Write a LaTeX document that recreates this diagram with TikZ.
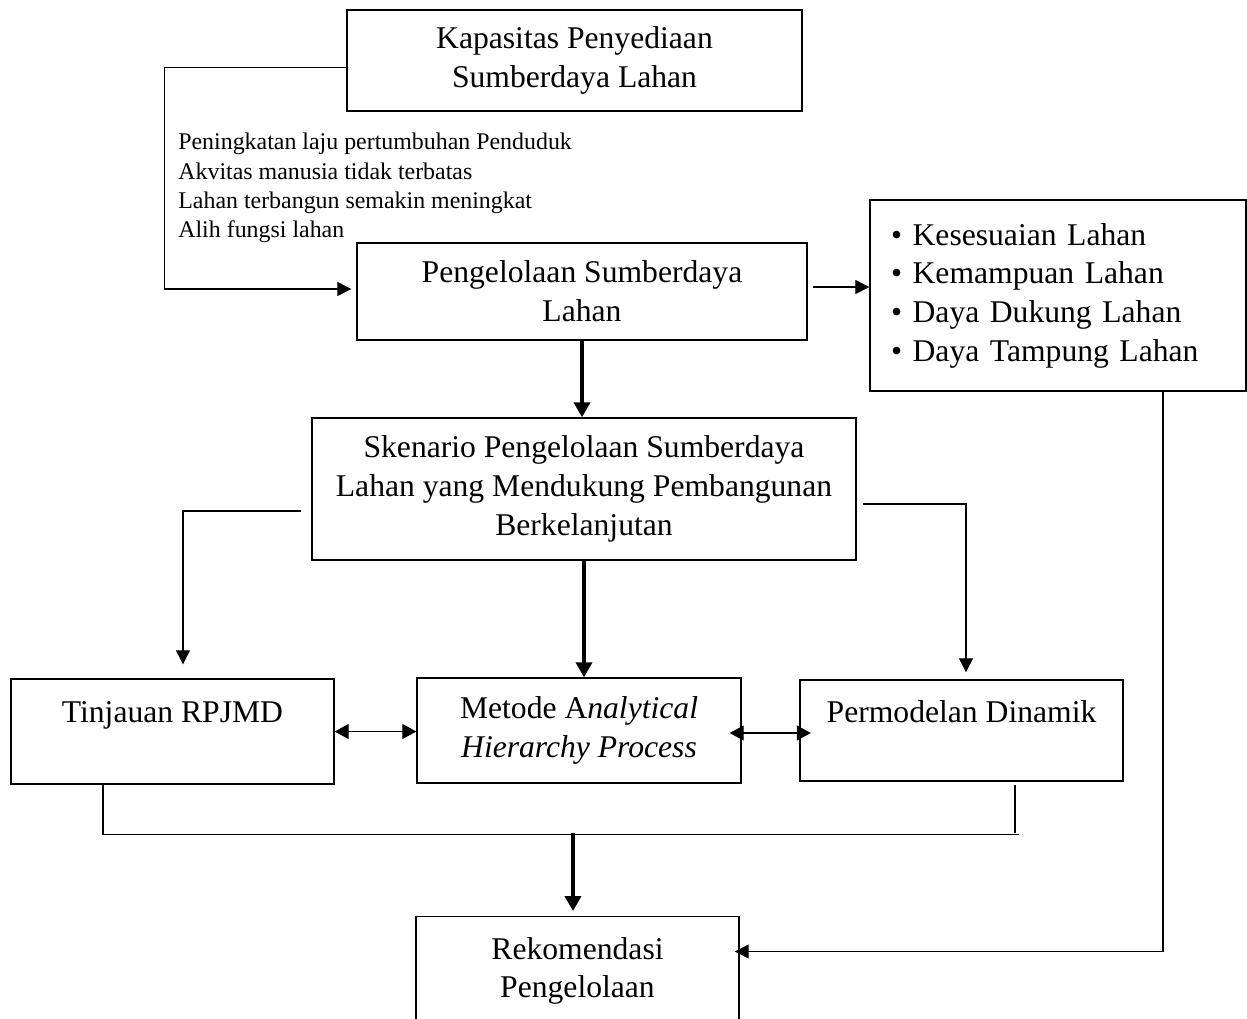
\documentclass[tikz,border=0pt]{standalone}
\usepackage{fontspec}
\setmainfont{Liberation Serif}
\usetikzlibrary{arrows.meta}
\usetikzlibrary{positioning}

\begin{document}
\begin{tikzpicture}[x=0.02cm,y=-0.02cm,
  box/.style={draw,line width=0.8pt,align=center,inner sep=0pt,font=\fontsize{18}{22}\selectfont},
  conn/.style={line width=0.6pt},
  arr/.style={conn,-{Triangle[length=0.28cm,width=0.28cm]}},
  darr/.style={conn,{Triangle[length=0.28cm,width=0.3cm]}-{Triangle[length=0.28cm,width=0.3cm]}},
  bold/.style={line width=2.2pt,-{Triangle[length=0.3cm,width=0.32cm]}}]
  \useasboundingbox (0,0) rectangle (1247,1018);

  \node[box,minimum width=9.1cm,minimum height=2.02cm] (kap) at (574.5,60.5) {Kapasitas Penyediaan\\Sumberdaya Lahan};
  \node[align=left,anchor=west,inner sep=0pt,font=\fontsize{13.6}{16.7}\selectfont] (faktor) at (178,188)
    {Peningkatan laju pertumbuhan Penduduk\\Akvitas manusia tidak terbatas\\Lahan terbangun semakin meningkat\\Alih fungsi lahan};
  \node[box,minimum width=9cm,minimum height=1.94cm] (peng) at (582,291.5) {Pengelolaan Sumberdaya\\Lahan};
  \node[box,align=left,text width=6.68cm,inner xsep=0.42cm,minimum height=3.82cm] (syarat) at (1058,295.5)
    {\textbullet\ Kesesuaian Lahan\\\textbullet\ Kemampuan Lahan\\\textbullet\ Daya Dukung Lahan\\\textbullet\ Daya Tampung Lahan};
  \node[box,minimum width=10.88cm,minimum height=2.84cm] (sken) at (584,489)
    {Skenario Pengelolaan Sumberdaya\\Lahan yang Mendukung Pembangunan\\Berkelanjutan};

  \node[box,minimum width=6.46cm,minimum height=2.1cm] (rpjmd) at (172.5,731.5) {Tinjauan RPJMD\\\mbox{}};
  \node[box,minimum width=6.48cm,minimum height=2.1cm] (ahp) at (579,730.5) {Metode A\textit{nalytical}\\\textit{Hierarchy Process}};
  \node[box,minimum width=6.46cm,minimum height=2.02cm] (dinamik) at (961.5,730.5) {Permodelan Dinamik\\\mbox{}};
  \node[box,anchor=north,minimum width=6.46cm,minimum height=2.8cm] (rek) at (577.5,916) {Rekomendasi\\Pengelolaan\\\mbox{}};

  \draw[arr] ([yshift=-0.14cm]kap.west) -- ++(-182,0) |- ([xshift=-0.1cm,yshift=0.05cm]peng.west);
  \draw[arr] ([xshift=0.1cm,yshift=0.09cm]peng.east) coordinate (p1) -- (p1 -| syarat.west);
  \draw[bold] (peng.south) -- (peng.south |- sken.north);

  \draw[arr] ([xshift=-0.2cm,yshift=-0.44cm]sken.west) -| ([xshift=0.21cm,yshift=0.28cm]rpjmd.north);
  \draw[arr] ([xshift=0.12cm,yshift=-0.3cm]sken.east) -| ([xshift=0.09cm,yshift=0.14cm]dinamik.north);
  \draw[bold] (sken.south) -- (sken.south |- ahp.north);

  \draw[darr] (rpjmd.east) -- (rpjmd.east -| ahp.west);
  \draw[darr] ([xshift=-0.24cm,yshift=-0.05cm]ahp.east) -- ([xshift=0.23cm,yshift=-0.05cm]dinamik.west);

  \draw[conn] ([xshift=-1.39cm]rpjmd.south) -- ++(0,50) coordinate (busl) -- ++(916,0) coordinate (busr);
  \draw[conn] ([xshift=1.07cm,yshift=-0.06cm]dinamik.south) -- ++(0,48);
  \coordinate (busmid) at (573,833);
  \draw[bold] (busmid) -- ([yshift=0.1cm]busmid |- rek.north);

  \draw[arr] ([xshift=2.1cm]syarat.south) |- ([xshift=-0.1cm,yshift=-0.71cm]rek.north east);
\end{tikzpicture}
\end{document}
